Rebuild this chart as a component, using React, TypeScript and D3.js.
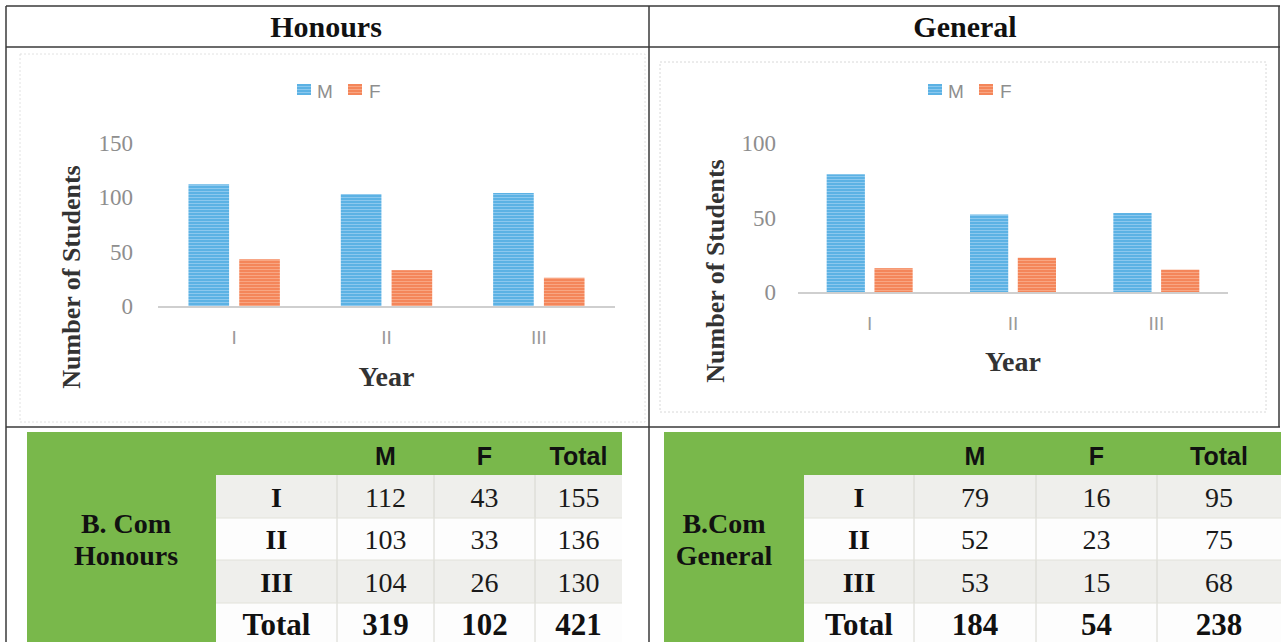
import React from 'react';
import * as d3 from 'd3';

// chart data
const years = ['I', 'II', 'III'];
const series = ['M', 'F'];
const honoursM = [112, 103, 104];
const honoursF = [43, 33, 26];
const generalM = [79, 52, 53];
const generalF = [16, 23, 15];
const honoursTicks = [0, 50, 100, 150];
const generalTicks = [0, 50, 100];

// table values
const tableCols = ['M', 'F', 'Total'];
const honoursTotals = [155, 136, 130];
const honoursSum = [319, 102, 421];
const generalTotals = [95, 75, 68];
const generalSum = [184, 54, 238];

const BLUE = '#5cb2e4';
const ORANGE = '#f4865a';
const GREEN = '#79b84b';
const GRAY = '#8e8e8e';
const SERIF = '"Liberation Serif", "Times New Roman", serif';
const SANS = '"Liberation Sans", Arial, sans-serif';

const BarChart = ({ id, m, f, ticks, yMax, x0, x1, yTop, yBase, tickX, legendX, catY, yearY, titleX, titleY }) => {
  const x = d3.scaleBand().domain(years).range([x0, x1]).paddingInner(0.4).paddingOuter(0.2);
  const xs = d3.scaleBand().domain(series).range([0, x.bandwidth()]).paddingInner(0.2);
  const y = d3.scaleLinear().domain([0, yMax]).range([yBase, yTop]);
  const vals = { M: m, F: f };
  const fills = { M: `url(#${id}-M)`, F: `url(#${id}-F)` };
  return (
    <g>
      <defs>
        <pattern id={`${id}-M`} width="4" height="3" patternUnits="userSpaceOnUse">
          <rect width="4" height="3" fill={BLUE} />
          <rect y="2" width="4" height="1" fill="#8cc8ee" />
        </pattern>
        <pattern id={`${id}-F`} width="4" height="3" patternUnits="userSpaceOnUse">
          <rect width="4" height="3" fill={ORANGE} />
          <rect y="2" width="4" height="1" fill="#f8a683" />
        </pattern>
      </defs>
      {/* legend */}
      <rect x={legendX} y={84} width={14} height={11} fill={fills.M} />
      <text x={legendX + 20} y={98} fontFamily={SANS} fontSize={19} fill={GRAY}>M</text>
      <rect x={legendX + 51} y={84} width={14} height={11} fill={fills.F} />
      <text x={legendX + 72} y={98} fontFamily={SANS} fontSize={19} fill={GRAY}>F</text>
      {/* y ticks */}
      {ticks.map(t => (
        <text key={t} x={tickX} y={y(t)} dy="0.35em" textAnchor="end" fontFamily={SERIF} fontSize={23} fill={GRAY}>{t}</text>
      ))}
      {/* bars */}
      {years.map((yr, i) => (
        <g key={yr} transform={`translate(${x(yr)},0)`}>
          {series.map(s => (
            <rect key={s} x={xs(s)} y={y(vals[s][i])} width={xs.bandwidth()} height={yBase - y(vals[s][i])} fill={fills[s]} />
          ))}
        </g>
      ))}
      <line x1={x0} x2={x1} y1={yBase + 1} y2={yBase + 1} stroke="#cfcfcf" strokeWidth={2} />
      {years.map(yr => (
        <text key={yr} x={x(yr) + x.bandwidth() / 2} y={catY} dy="0.35em" textAnchor="middle" fontFamily={SANS} fontSize={19} fill="#9a9a9a">{yr}</text>
      ))}
      <text x={(x0 + x1) / 2} y={yearY} textAnchor="middle" fontFamily={SERIF} fontWeight="bold" fontSize={28} fill="#333">Year</text>
      <text transform={`translate(${titleX},${titleY}) rotate(-90)`} textAnchor="middle" fontFamily={SERIF} fontWeight="bold" fontSize={26} fill="#333">Number of Students</text>
    </g>
  );
};

const Table = ({ gx0, gx1, lx, colEdges, label, vals, totals, sums }) => {
  const rows = [475, 518, 560, 603, 642];
  const colMid = i => (colEdges[i] + colEdges[i + 1]) / 2;
  return (
    <g>
      <rect x={gx0} y={432} width={gx1 - gx0} height={210} fill={GREEN} />
      {[0, 1, 2, 3].map(r => (
        <rect key={r} x={colEdges[0]} y={rows[r]} width={gx1 - colEdges[0]} height={rows[r + 1] - rows[r]} fill={r % 2 === 0 ? '#efefec' : '#fdfdfd'} />
      ))}
      {colEdges.slice(1, 4).map(cx => (
        <line key={cx} x1={cx} x2={cx} y1={475} y2={642} stroke="#d6d6cf" strokeWidth={1} />
      ))}
      {rows.slice(1, 4).map(ry => (
        <line key={ry} x1={colEdges[0]} x2={gx1} y1={ry} y2={ry} stroke="#e2e2da" strokeWidth={1} />
      ))}
      {tableCols.map((c, i) => (
        <text key={c} x={colMid(i + 1)} y={465} textAnchor="middle" fontFamily={SANS} fontWeight="bold" fontSize={25} fill="#111">{c}</text>
      ))}
      <text x={lx} y={533} textAnchor="middle" fontFamily={SERIF} fontWeight="bold" fontSize={28} fill="#111">{label[0]}</text>
      <text x={lx} y={565} textAnchor="middle" fontFamily={SERIF} fontWeight="bold" fontSize={28} fill="#111">{label[1]}</text>
      {years.map((yr, r) => (
        <g key={yr}>
          <text x={colMid(0)} y={(rows[r] + rows[r + 1]) / 2 + 10} textAnchor="middle" fontFamily={SERIF} fontWeight="bold" fontSize={28} fill="#111">{yr}</text>
          {[vals[0][r], vals[1][r], totals[r]].map((v, c) => (
            <text key={c} x={colMid(c + 1)} y={(rows[r] + rows[r + 1]) / 2 + 10} textAnchor="middle" fontFamily={SERIF} fontSize={28} fill="#1a1a1a">{v}</text>
          ))}
        </g>
      ))}
      <text x={colMid(0)} y={635} textAnchor="middle" fontFamily={SERIF} fontWeight="bold" fontSize={31} fill="#111">Total</text>
      {sums.map((v, c) => (
        <text key={c} x={colMid(c + 1)} y={635} textAnchor="middle" fontFamily={SERIF} fontWeight="bold" fontSize={31} fill="#111">{v}</text>
      ))}
    </g>
  );
};

export default function App() {
  return (
    <svg width={1281} height={642} style={{ position: 'absolute', left: 0, top: 0, background: '#fff' }}>
      {/* headers */}
      <text x={326} y={37} textAnchor="middle" fontFamily={SERIF} fontWeight="bold" fontSize={30} fill="#111">Honours</text>
      <text x={965} y={37} textAnchor="middle" fontFamily={SERIF} fontWeight="bold" fontSize={30} fill="#111">General</text>

      {/* chart frames */}
      <rect x={20} y={54} width={625} height={368} fill="none" stroke="#e2e2e2" strokeDasharray="2 2" />
      <rect x={660} y={62} width={606} height={350} fill="none" stroke="#d8d8d8" strokeDasharray="2 2" />

      <BarChart id="hon" m={honoursM} f={honoursF} ticks={honoursTicks} yMax={150}
        x0={158} x1={615} yTop={143} yBase={306} tickX={133} legendX={297}
        catY={337} yearY={386} titleX={80} titleY={277} />
      <BarChart id="gen" m={generalM} f={generalF} ticks={generalTicks} yMax={100}
        x0={798} x1={1228} yTop={143} yBase={292} tickX={776} legendX={928}
        catY={323} yearY={371} titleX={724} titleY={271} />

      <Table gx0={27} gx1={622} lx={126} colEdges={[216, 337, 434, 535, 622]}
        label={['B. Com', 'Honours']} vals={[honoursM, honoursF]} totals={honoursTotals} sums={honoursSum} />
      <Table gx0={664} gx1={1281} lx={724} colEdges={[804, 914, 1036, 1157, 1281]}
        label={['B.Com', 'General']} vals={[generalM, generalF]} totals={generalTotals} sums={generalSum} />

      {/* grid lines */}
      <g stroke="#3a3a3a" strokeWidth={1.5}>
        <line x1={6} x2={1280} y1={6} y2={6} />
        <line x1={6} x2={1280} y1={47} y2={47} />
        <line x1={6} x2={1280} y1={427} y2={427} />
        <line x1={6} x2={6} y1={6} y2={642} />
        <line x1={649} x2={649} y1={6} y2={642} />
        <line x1={1279} x2={1279} y1={6} y2={427} />
      </g>
    </svg>
  );
}
